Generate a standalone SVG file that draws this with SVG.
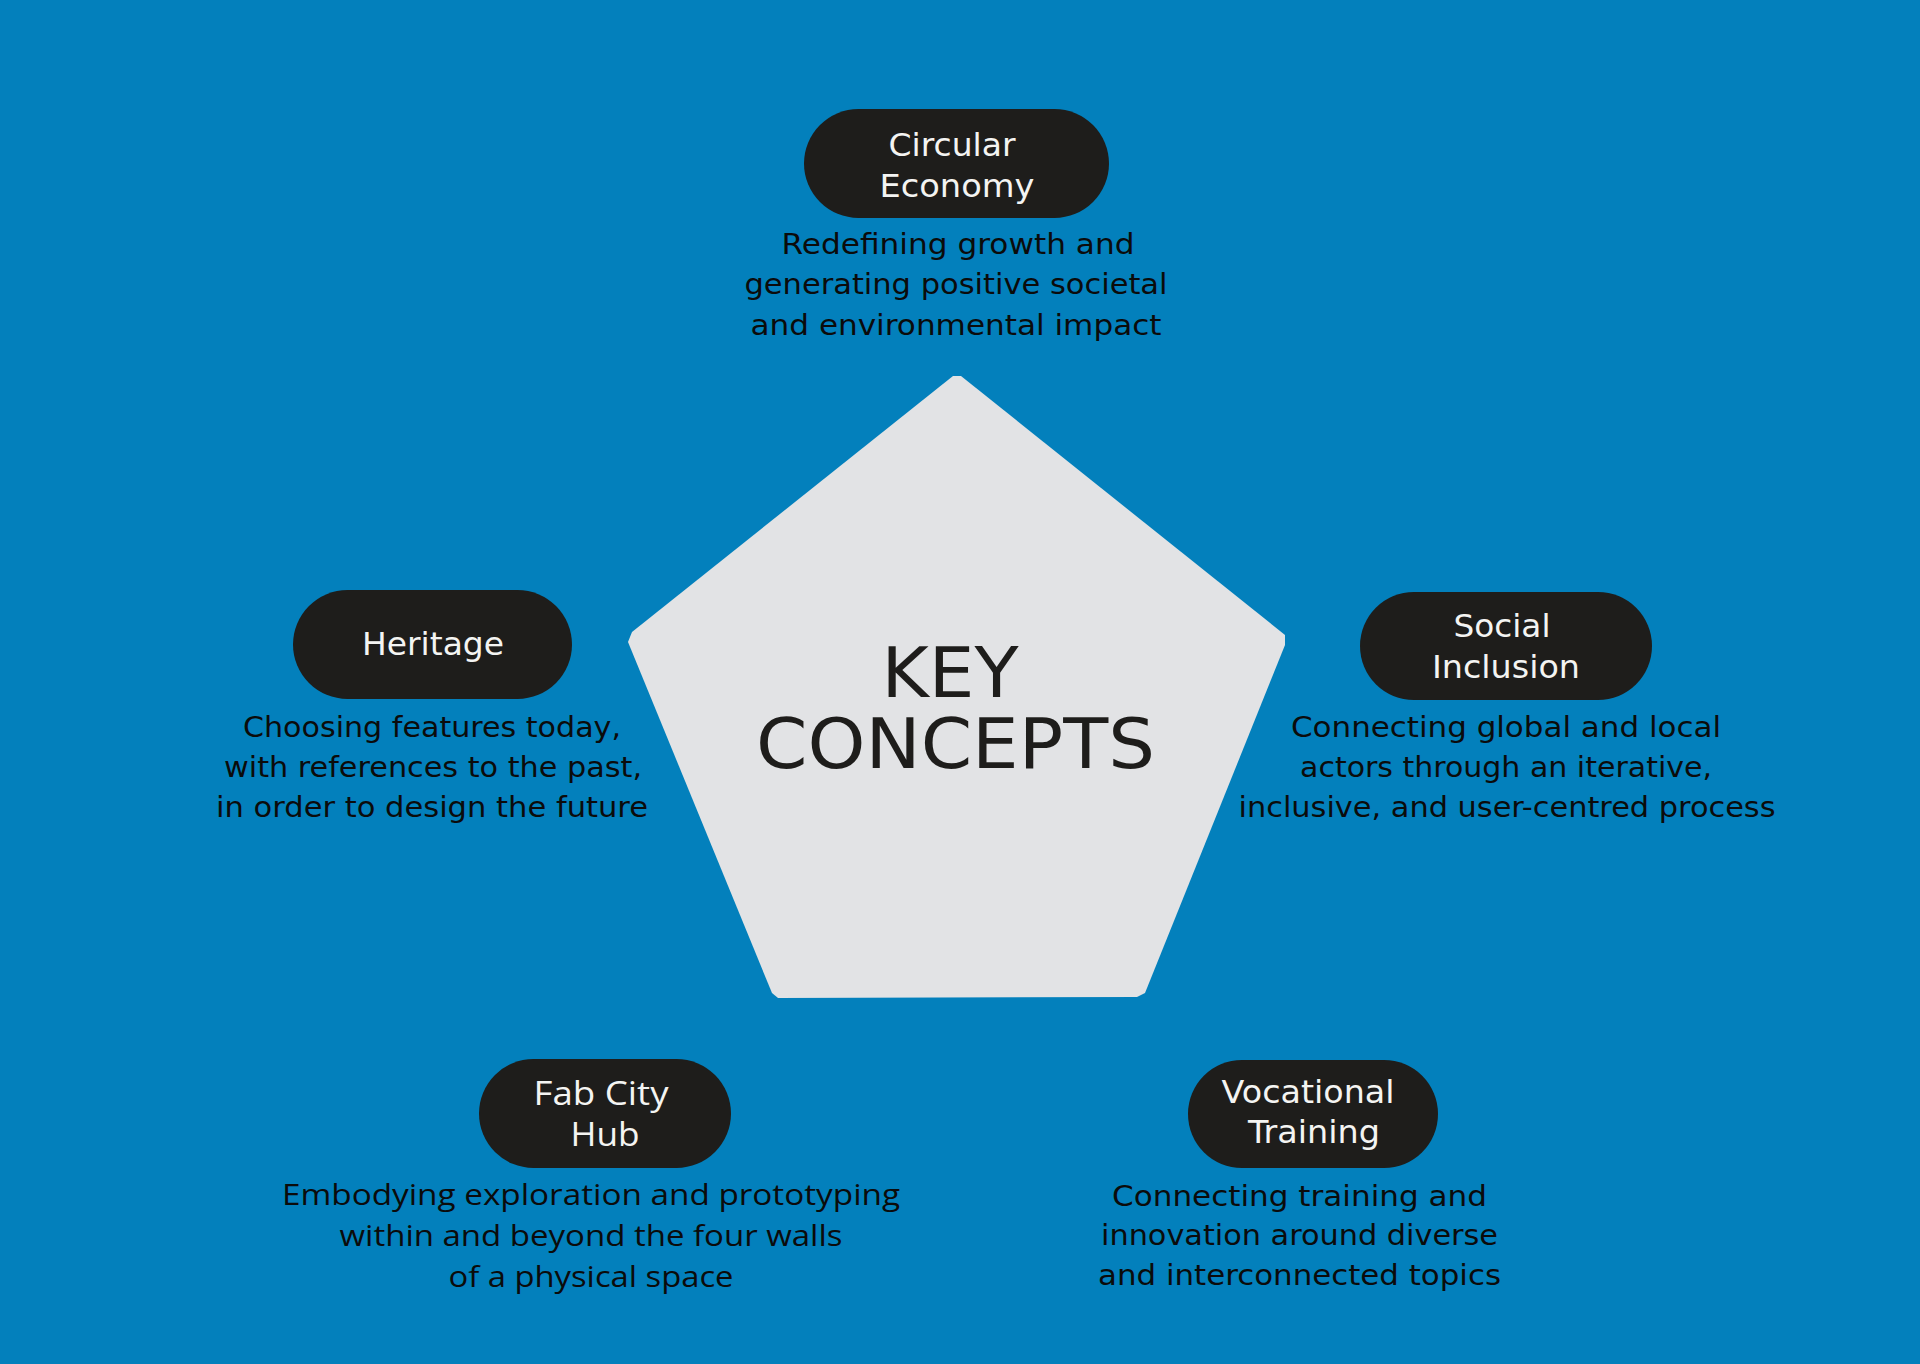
<svg xmlns="http://www.w3.org/2000/svg" width="1920" height="1364" viewBox="0 0 1920 1364">
<style>
.bg{fill:#0380bc}
.pill{fill:#1e1d1b}
.penta{fill:#e2e3e5}
.t{font-family:"DejaVu Sans","Liberation Sans",sans-serif;font-size:32px;fill:#f4f4f2;text-anchor:middle}
.t2{font-family:"Open Sans","Liberation Sans",sans-serif;font-size:33px;fill:#f4f4f2;text-anchor:middle}
.d{font-family:"DejaVu Sans","Liberation Sans",sans-serif;font-size:28px;fill:#0b0b0b;text-anchor:middle}
.d2{font-family:"Open Sans","Liberation Sans",sans-serif;font-size:29px;fill:#0b0b0b;text-anchor:middle}
.k{font-family:"DejaVu Sans","Liberation Sans",sans-serif;font-size:70px;fill:#1e1d1b;text-anchor:middle}
</style>
<rect class="bg" x="0" y="0" width="1920" height="1364"/>
<g id="key-concepts">
<polygon class="penta" points="953,376 961,376 1285,635 1285,645 1145,993 1137,997 778,998 772,993 628,642 632,632"/>
<text class="k"><tspan x="950" y="697" textLength="137" lengthAdjust="spacingAndGlyphs">KEY</tspan><tspan x="955.5" y="768" textLength="399" lengthAdjust="spacingAndGlyphs">CONCEPTS</tspan></text>
</g>
<g id="connectors"></g>
<g id="circular-economy">
<rect class="pill" x="804" y="109" width="305" height="109" rx="54.5"/>
<text class="t" x="952" y="156" textLength="127" lengthAdjust="spacingAndGlyphs">Circular</text>
<text class="t" x="957" y="197" textLength="155" lengthAdjust="spacingAndGlyphs">Economy</text>
<text class="d" x="958" y="254" textLength="353" lengthAdjust="spacingAndGlyphs">Redefining growth and</text>
<text class="d" x="956" y="294" textLength="423" lengthAdjust="spacingAndGlyphs">generating positive societal</text>
<text class="d" x="956" y="335" textLength="411" lengthAdjust="spacingAndGlyphs">and environmental impact</text>
</g>
<g id="heritage">
<rect class="pill" x="293" y="590" width="279" height="109" rx="54.5"/>
<text class="t" x="433" y="655" textLength="142" lengthAdjust="spacingAndGlyphs">Heritage</text>
<text class="d" x="432" y="737" textLength="378" lengthAdjust="spacingAndGlyphs">Choosing features today,</text>
<text class="d" x="433" y="777" textLength="418" lengthAdjust="spacingAndGlyphs">with references to the past,</text>
<text class="d" x="432" y="817" textLength="432" lengthAdjust="spacingAndGlyphs">in order to design the future</text>
</g>
<g id="social-inclusion">
<rect class="pill" x="1360" y="592" width="292" height="108" rx="54"/>
<text class="t" x="1502" y="637" textLength="97" lengthAdjust="spacingAndGlyphs">Social</text>
<text class="t" x="1506" y="678" textLength="148" lengthAdjust="spacingAndGlyphs">Inclusion</text>
<text class="d" x="1506" y="737" textLength="430" lengthAdjust="spacingAndGlyphs">Connecting global and local</text>
<text class="d" x="1506" y="777" textLength="412" lengthAdjust="spacingAndGlyphs">actors through an iterative,</text>
<text class="d" x="1507" y="817" textLength="537" lengthAdjust="spacingAndGlyphs">inclusive, and user-centred process</text>
</g>
<g id="fab-city-hub">
<rect class="pill" x="479" y="1059" width="252" height="109" rx="54.5"/>
<text class="t2" x="601" y="1105" textLength="135" lengthAdjust="spacingAndGlyphs">Fab City</text>
<text class="t2" x="605" y="1146" textLength="69" lengthAdjust="spacingAndGlyphs">Hub</text>
<text class="d2" x="591" y="1205" textLength="618" lengthAdjust="spacingAndGlyphs">Embodying exploration and prototyping</text>
<text class="d2" x="591" y="1246" textLength="503" lengthAdjust="spacingAndGlyphs">within and beyond the four walls</text>
<text class="d2" x="591" y="1287" textLength="285" lengthAdjust="spacingAndGlyphs">of a physical space</text>
</g>
<g id="vocational-training">
<rect class="pill" x="1188" y="1060" width="250" height="108" rx="54"/>
<text class="t" x="1308" y="1103" textLength="173" lengthAdjust="spacingAndGlyphs">Vocational</text>
<text class="t" x="1314" y="1143" textLength="132" lengthAdjust="spacingAndGlyphs">Training</text>
<text class="d" x="1299.5" y="1206" textLength="375" lengthAdjust="spacingAndGlyphs">Connecting training and</text>
<text class="d" x="1299.5" y="1245" textLength="397" lengthAdjust="spacingAndGlyphs">innovation around diverse</text>
<text class="d" x="1299.5" y="1285" textLength="403" lengthAdjust="spacingAndGlyphs">and interconnected topics</text>
</g>
</svg>
